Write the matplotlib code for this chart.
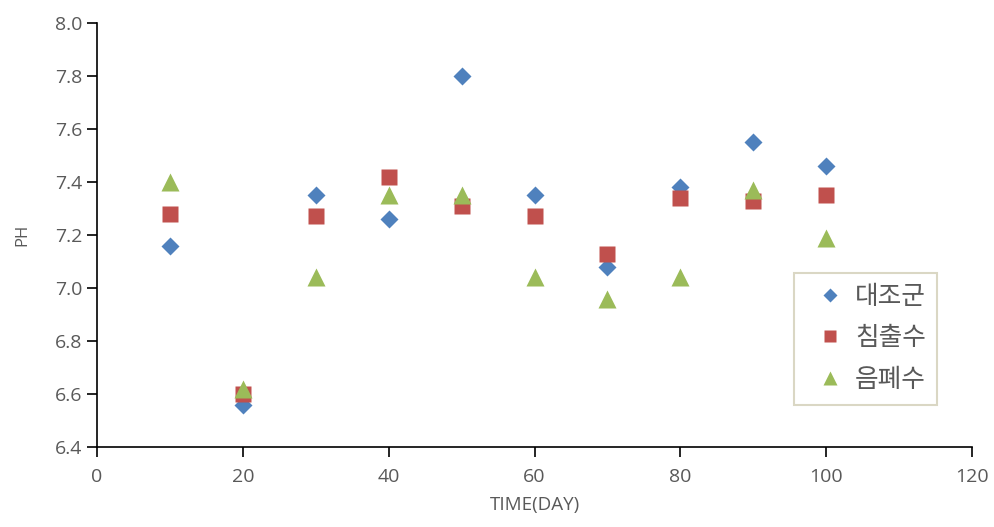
import matplotlib
matplotlib.use('Agg')
import matplotlib.pyplot as plt

plt.rcParams['font.family'] = ['Open Sans', 'Noto Sans CJK KR', 'DejaVu Sans']

# Data
days = [10, 20, 30, 40, 50, 60, 70, 80, 90, 100]
control = [7.16, 6.56, 7.35, 7.26, 7.80, 7.35, 7.08, 7.38, 7.55, 7.46]
leachate = [7.28, 6.60, 7.27, 7.42, 7.31, 7.27, 7.13, 7.34, 7.33, 7.35]
food_ww = [7.40, 6.62, 7.04, 7.35, 7.35, 7.04, 6.96, 7.04, 7.37, 7.19]
labels = ['대조군', '침출수', '음폐수']

fig = plt.figure(figsize=(9.94, 5.27), dpi=100)
ax = fig.add_axes([0.0976, 0.1518, 0.8804, 0.8046])

ax.plot(days, control, 'D', color='#4F81BD', ms=9.5, mec='none', label=labels[0])
ax.plot(days, leachate, 's', color='#C0504D', ms=11, mec='none', label=labels[1])
ax.plot(days, food_ww, '^', color='#9BBB59', ms=12.5, mec='none', label=labels[2])

ax.set_xlim(0, 120)
ax.set_ylim(6.4, 8.0)
ax.set_xticks(range(0, 121, 20))
ax.set_yticks([6.4 + 0.2 * i for i in range(9)])
ax.set_yticklabels(['%.1f' % (6.4 + 0.2 * i) for i in range(9)])

for s in ['top', 'right']:
    ax.spines[s].set_visible(False)
for s in ['left', 'bottom']:
    ax.spines[s].set_linewidth(1.2)
    ax.spines[s].set_color('black')
ax.tick_params(direction='out', length=7, width=1.2, colors='black',
               labelcolor='#595959', labelsize=14)
ax.tick_params(axis='x', pad=8)

ax.set_xlabel('TIME(DAY)', fontsize=13.5, color='#595959', labelpad=7)
ax.set_ylabel('PH', fontsize=12, color='#595959', labelpad=18)

leg = ax.legend(loc='upper left', bbox_to_anchor=(0.797, 0.41),
                fontsize=18.5, handletextpad=0.05, handlelength=1.85,
                markerscale=0.8, labelspacing=0.65, borderpad=0.45,
                borderaxespad=0, fancybox=False, framealpha=1)
leg.get_frame().set_edgecolor('#DAD7C4')
leg.get_frame().set_linewidth(1.5)
for t in leg.get_texts():
    t.set_color('#595959')

fig.savefig('out.png', dpi=100)
